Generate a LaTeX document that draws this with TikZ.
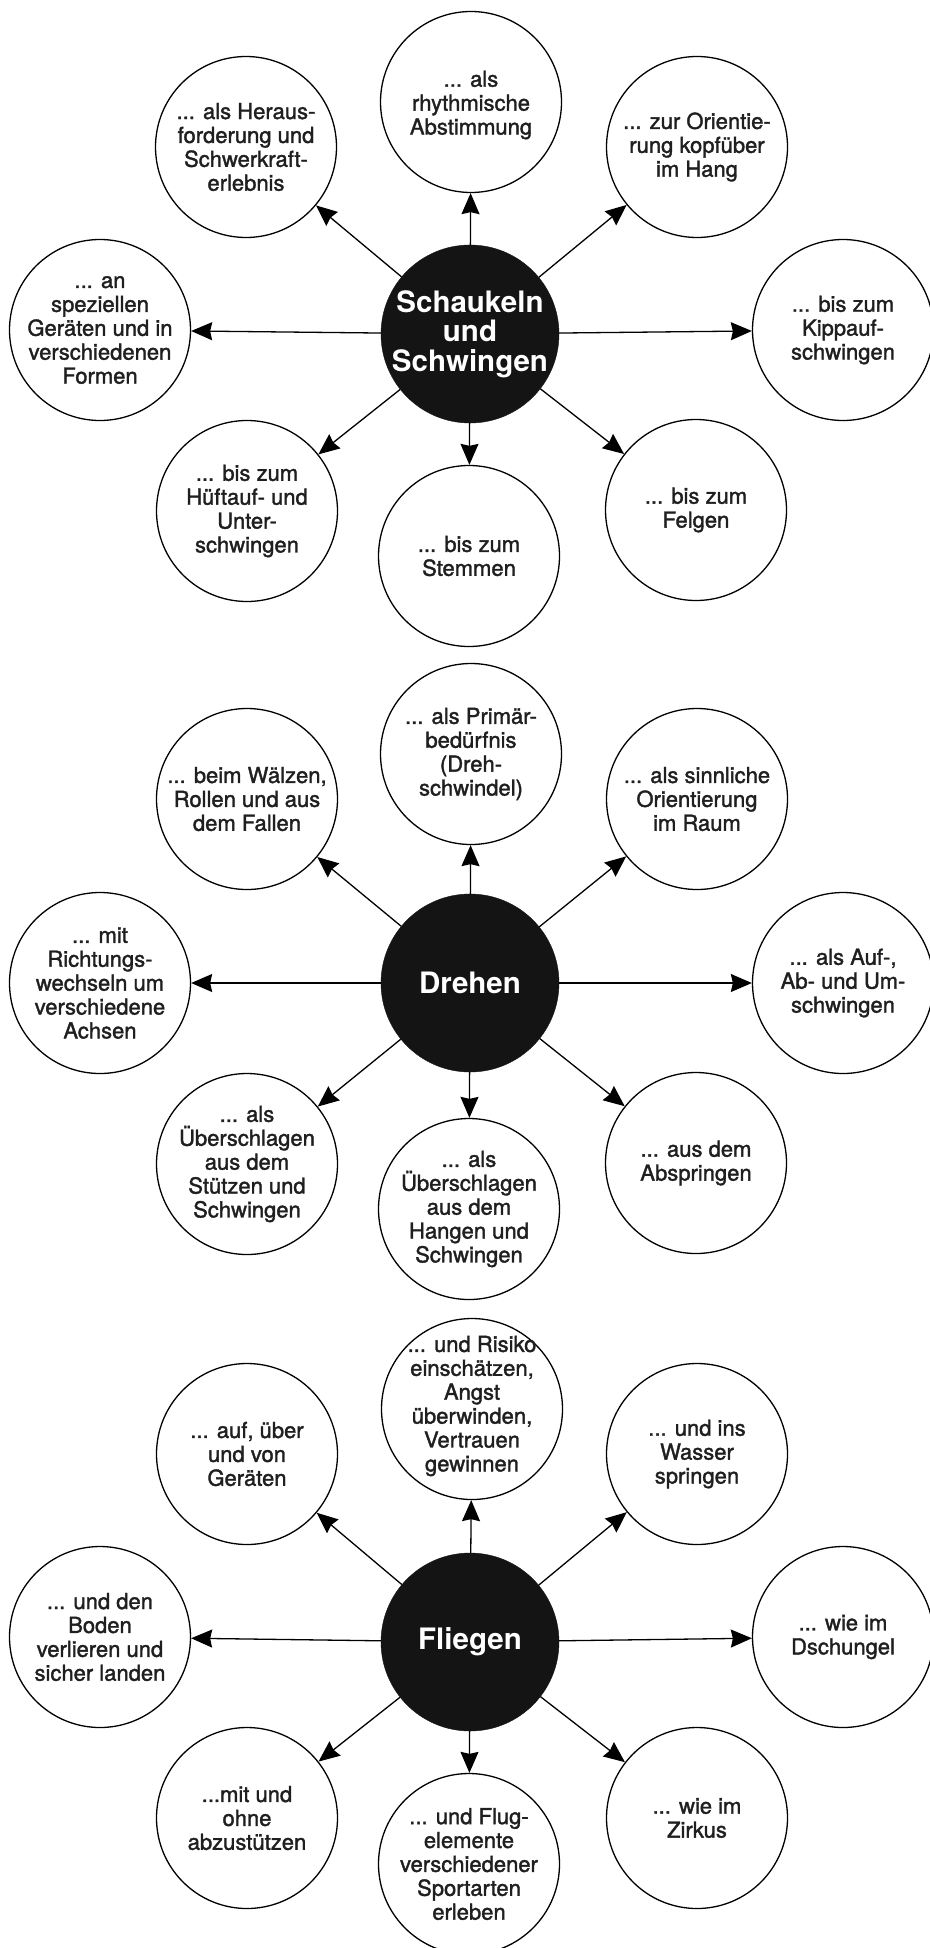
\documentclass[tikz,border=0pt]{standalone}
\usepackage{fontspec}
\setmainfont{TeX Gyre Heros}
\newfontfamily\satfont{TeX Gyre Heros}[FakeBold=1.6]
\usetikzlibrary{arrows.meta}
\tikzset{
  sat/.style={circle, draw=black, line width=1.3pt, minimum size=181pt, inner sep=0pt, fill=white},
  sattext/.style={align=center, inner sep=0pt, text=black!88, font=\satfont\fontsize{22}{23.9}\selectfont},
  hub/.style={circle, fill=black!92, draw=black!92, minimum size=178pt, inner sep=0pt},
  hubtext/.style={align=center, inner sep=0pt, text=white, font=\fontsize{29.5}{29.5}\selectfont\bfseries},
  arr/.style={line width=1.3pt, draw=black, -{Stealth[length=21pt,width=18pt,inset=2pt]}},
}
\begin{document}
\begin{tikzpicture}[x=1pt,y=-1pt]
\useasboundingbox[fill=white] (0,0) rectangle (929,1948);

% ---------------- Diagram 1 ----------------
\begin{scope}[shift={(0,334)}]
\node[hub] (a0) at (470,0) {};
\node[hubtext] (a0t) at (a0) {Schaukeln\\und\\Schwingen};
\node[sat] (a1) at (471,-232) {};
\node[sattext] (a1t) at ([yshift=-3pt]a1.center) {... als\\rhythmische\\Abstimmung};
\node[sat] (a2) at (246,-187) {};
\node[sattext] (a2t) at (a2) {... als Heraus-\\forderung und\\Schwerkraft-\\erlebnis};
\node[sat] (a3) at (697,-187) {};
\node[sattext] (a3t) at (a3) {... zur Orientie-\\rung kopfüber\\im Hang};
\node[sat] (a4) at (100,-4) {};
\node[sattext] (a4t) at (a4) {... an\\speziellen\\Geräten und in\\verschiedenen\\Formen};
\node[sat] (a5) at (843,-4) {};
\node[sattext] (a5t) at (a5) {... bis zum\\Kippauf-\\schwingen};
\node[sat] (a6) at (247,177) {};
\node[sattext] (a6t) at (a6) {... bis zum\\Hüftauf- und\\Unter-\\schwingen};
\node[sat] (a7) at (469,222) {};
\node[sattext] (a7t) at (a7) {... bis zum\\Stemmen};
\node[sat] (a8) at (696,176) {};
\node[sattext] (a8t) at (a8) {... bis zum\\Felgen};
\foreach \i in {1,...,8} \draw[arr] (a0) -- (a\i);
\end{scope}

% ---------------- Diagram 2 ----------------
\begin{scope}[shift={(0,983)}]
\node[hub] (b0) at (470,0) {};
\node[hubtext] (b0t) at (b0) {Drehen};
\node[sat] (b1) at (471,-229) {};
\node[sattext] (b1t) at (b1) {... als Primär-\\bedürfnis\\(Dreh-\\schwindel)};
\node[sat] (b2) at (247,-184) {};
\node[sattext] (b2t) at (b2) {... beim Wälzen,\\Rollen und aus\\dem Fallen};
\node[sat] (b3) at (697,-184) {};
\node[sattext] (b3t) at (b3) {... als sinnliche\\Orientierung\\im Raum};
\node[sat] (b4) at (100,0) {};
\node[sattext] (b4t) at (b4) {... mit\\Richtungs-\\wechseln um\\verschiedene\\Achsen};
\node[sat] (b5) at (843,0) {};
\node[sattext] (b5t) at (b5) {... als Auf-,\\Ab- und Um-\\schwingen};
\node[sat] (b6) at (247,181) {};
\node[sattext] (b6t) at (b6) {... als\\Überschlagen\\aus dem\\Stützen und\\Schwingen};
\node[sat] (b7) at (469,226) {};
\node[sattext] (b7t) at (b7) {... als\\Überschlagen\\aus dem\\Hangen und\\Schwingen};
\node[sat] (b8) at (696,180) {};
\node[sattext] (b8t) at (b8) {... aus dem\\Abspringen};
\foreach \i in {1,...,8} \draw[arr] (b0) -- (b\i);
\end{scope}

% ---------------- Diagram 3 ----------------
\begin{scope}[shift={(0,1642)}]
\node[hub] (c0) at (470,0) {};
\node[hubtext] (c0t) at (c0) {Fliegen};
\node[sat] (c1) at (472,-233) {};
\node[sattext] (c1t) at ([yshift=3pt]c1.center) {... und Risiko\\einschätzen,\\Angst\\überwinden,\\Vertrauen\\gewinnen};
\node[sat] (c2) at (247,-188) {};
\node[sattext] (c2t) at (c2) {... auf, über\\und von\\Geräten};
\node[sat] (c3) at (697,-188) {};
\node[sattext] (c3t) at (c3) {... und ins\\Wasser\\springen};
\node[sat] (c4) at (100,-5) {};
\node[sattext] (c4t) at (c4) {... und den\\Boden\\verlieren und\\sicher landen};
\node[sat] (c5) at (843,-5) {};
\node[sattext] (c5t) at (c5) {... wie im\\Dschungel};
\node[sat] (c6) at (247,176) {};
\node[sattext] (c6t) at (c6) {...mit und\\ohne\\abzustützen};
\node[sat] (c7) at (469,222) {};
\node[sattext] (c7t) at (c7) {... und Flug-\\elemente\\verschiedener\\Sportarten\\erleben};
\node[sat] (c8) at (697,176) {};
\node[sattext] (c8t) at (c8) {... wie im\\Zirkus};
\foreach \i in {1,...,8} \draw[arr] (c0) -- (c\i);
\end{scope}
\end{tikzpicture}
\end{document}
